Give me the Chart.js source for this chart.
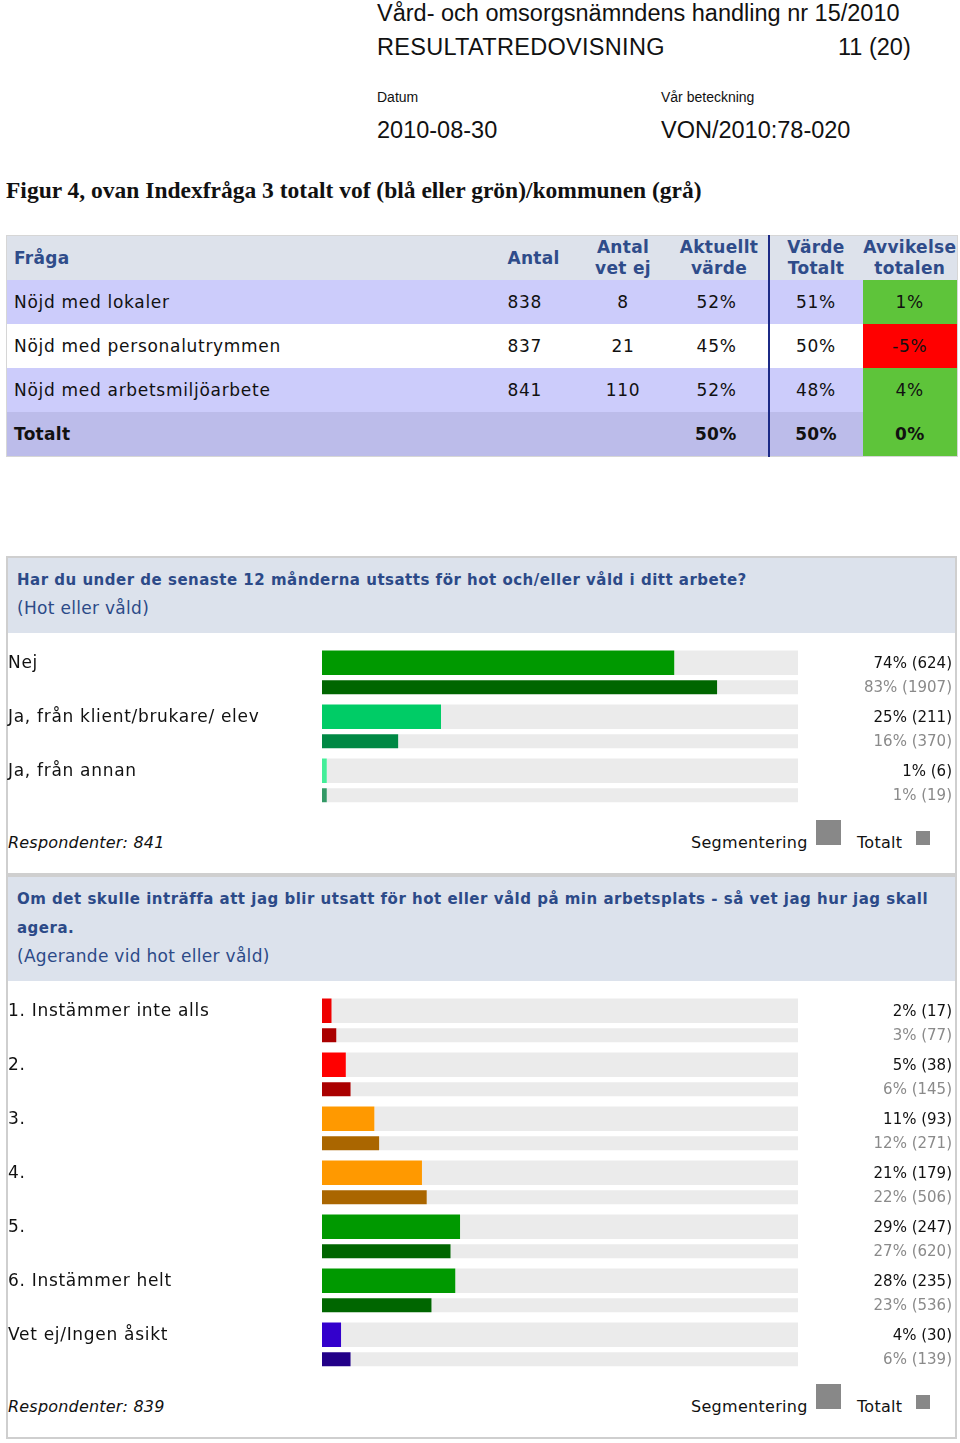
<!DOCTYPE html>
<html>
<head>
<meta charset="utf-8">
<script src="https://cdn.jsdelivr.net/npm/chart.js@4.4.1/dist/chart.umd.min.js"></script>
<style>
  body { margin: 0; background: #fff; width: 960px; height: 1443px; position: relative; overflow: hidden; font-family: "DejaVu Sans", sans-serif; color: #111; }
  .abs { position: absolute; white-space: nowrap; }
  .doc { font-family: "Liberation Sans", Arial, sans-serif; font-size: 23.5px; line-height: 28px; color: #111; }
  .small { font-family: "Liberation Sans", Arial, sans-serif; font-size: 14px; line-height: 18px; }
  .caption { font-family: "Liberation Serif", "Times New Roman", serif; font-weight: bold; font-size: 23.5px; line-height: 26px; }
  table.idx { position: absolute; left: 6px; top: 235px; width: 951px; border-collapse: collapse; table-layout: fixed; border: 1px solid #d6d6d6; font-size: 17px; letter-spacing: .7px; }
  table.idx td { padding: 0; height: 44px; vertical-align: middle; white-space: nowrap; }
  table.idx tr.head td { background: #dde2eb; color: #2f4c8a; font-weight: bold; line-height: 21px; text-align: center; letter-spacing: .3px; }
  table.idx tr.odd td { background: #ccccfb; }
  table.idx tr.even td { background: #fff; }
  table.idx tr.sum td { background: #bcbcea; font-weight: bold; letter-spacing: .3px; }
  table.idx tr td.q { text-align: left; padding-left: 7px; }
  table.idx tr td.n { text-align: left; padding-left: 27px; }
  table.idx tr td.c { text-align: center; }
  table.idx tr td.r { text-align: right; padding-right: 31px; }
  table.idx tr td.sep { border-left: 2px solid #1c2a86; }
  .panel { position: absolute; left: 6px; width: 951px; box-sizing: border-box; border: 2px solid #cfcfcf; background: #fff; }
  .phead { position: absolute; left: 0; right: 0; top: 0; background: #dce2ec; }
  .ptitle { font-weight: bold; font-size: 15px; line-height: 28px; color: #2c4a88; letter-spacing: .5px; }
  .psub { font-size: 17px; line-height: 28px; color: #2c4a88; letter-spacing: .3px; }
  .resp { font-style: italic; font-size: 16px; line-height: 20px; letter-spacing: .2px; }
  .leg { font-size: 16px; line-height: 20px; letter-spacing: .3px; }
  .sq { position: absolute; background: #888; }
  canvas { position: absolute; left: 7px; }
</style>
</head>
<body>

<div class="abs doc" style="left:377px;top:-1px">Vård- och omsorgsnämndens handling nr 15/2010</div>
<div class="abs doc" style="left:377px;top:33px;letter-spacing:.3px">RESULTATREDOVISNING</div>
<div class="abs doc" style="left:838px;top:33px">11 (20)</div>
<div class="abs small" style="left:377px;top:88px">Datum</div>
<div class="abs small" style="left:661px;top:88px">Vår beteckning</div>
<div class="abs doc" style="left:377px;top:116px">2010-08-30</div>
<div class="abs doc" style="left:661px;top:116px">VON/2010:78-020</div>
<div class="abs caption" style="left:6px;top:177px">Figur 4, ovan Indexfråga 3 totalt vof (blå eller grön)/kommunen (grå)</div>

<table class="idx" id="idx">
  <colgroup><col style="width:474px"><col style="width:95px"><col style="width:95px"><col style="width:98px"><col style="width:94px"><col style="width:95px"></colgroup>
  <tbody id="idxBody"></tbody>
</table>

<!-- panel 1 -->
<div class="panel" style="top:556px;height:319px"><div class="phead" style="height:75px"></div></div>
<div class="abs ptitle" style="left:17px;top:566px">Har du under de senaste 12 månderna utsatts för hot och/eller våld i ditt arbete?</div>
<div class="abs psub" style="left:17px;top:594px">(Hot eller våld)</div>
<canvas id="c1" width="949" height="162" style="top:648px"></canvas>
<div class="abs resp" style="left:8px;top:833px">Respondenter: 841</div>
<div class="abs leg" style="left:691px;top:833px">Segmentering</div>
<div class="sq" style="left:816px;top:820px;width:25px;height:25px"></div>
<div class="abs leg" style="left:857px;top:833px">Totalt</div>
<div class="sq" style="left:916px;top:831px;width:14px;height:14px"></div>

<!-- panel 2 -->
<div class="panel" style="top:875px;height:564px"><div class="phead" style="height:104px"></div></div>
<div class="abs ptitle" style="left:17px;top:885px">Om det skulle inträffa att jag blir utsatt för hot eller våld på min arbetsplats - så vet jag hur jag skall</div>
<div class="abs ptitle" style="left:17px;top:914px">agera.</div>
<div class="abs psub" style="left:17px;top:942px">(Agerande vid hot eller våld)</div>
<canvas id="c2" width="949" height="378" style="top:996px"></canvas>
<div class="abs resp" style="left:8px;top:1397px">Respondenter: 839</div>
<div class="abs leg" style="left:691px;top:1397px">Segmentering</div>
<div class="sq" style="left:816px;top:1384px;width:25px;height:25px"></div>
<div class="abs leg" style="left:857px;top:1397px">Totalt</div>
<div class="sq" style="left:916px;top:1395px;width:14px;height:14px"></div>

<script>
// index table
const tblQuestions = ["Nöjd med lokaler", "Nöjd med personalutrymmen", "Nöjd med arbetsmiljöarbete"];
const tblAntal = [838, 837, 841];
const tblVetEj = [8, 21, 110];
const tblAktuellt = [52, 45, 52];
const tblTotalt = [51, 50, 48];
const tblAvvikelse = [1, -5, 4];
const tblSum = { aktuellt: 50, totalt: 50, avvikelse: 0 };

// question 1: hot eller våld
const q1Labels = ["Nej", "Ja, från klient/brukare/ elev", "Ja, från annan"];
const q1Seg = [74, 25, 1];
const q1SegN = [624, 211, 6];
const q1Tot = [83, 16, 1];
const q1TotN = [1907, 370, 19];
const q1SegColors = ["#009900", "#00cc66", "#44ee99"];
const q1TotColors = ["#006600", "#008844", "#339966"];

// question 2: agerande vid hot eller våld
const q2Labels = ["1. Instämmer inte alls", "2.", "3.", "4.", "5.", "6. Instämmer helt", "Vet ej/Ingen åsikt"];
const q2Seg = [2, 5, 11, 21, 29, 28, 4];
const q2SegN = [17, 38, 93, 179, 247, 235, 30];
const q2Tot = [3, 6, 12, 22, 27, 23, 6];
const q2TotN = [77, 145, 271, 506, 620, 536, 139];
const q2SegColors = ["#ee0000", "#ff0000", "#ff9900", "#ff9900", "#009900", "#009900", "#3300cc"];
const q2TotColors = ["#aa0000", "#aa0000", "#aa6600", "#aa6600", "#006600", "#006600", "#220088"];

function devColor(v) { return v < 0 ? "#ff0000" : "#5ec43a"; }

document.getElementById("idxBody").innerHTML =
  `<tr class="head"><td class="q">Fråga</td><td class="n">Antal</td><td>Antal<br>vet ej</td><td>Aktuellt<br>värde</td><td class="sep">Värde<br>Totalt</td><td>Avvikelse<br>totalen</td></tr>` +
  tblQuestions.map((q, i) => `
    <tr class="${i % 2 ? "even" : "odd"}">
      <td class="q">${q}</td><td class="n">${tblAntal[i]}</td><td class="c">${tblVetEj[i]}</td>
      <td class="r">${tblAktuellt[i]}%</td><td class="c sep">${tblTotalt[i]}%</td>
      <td class="c" style="background:${devColor(tblAvvikelse[i])}">${tblAvvikelse[i]}%</td>
    </tr>`).join("") +
  `<tr class="sum"><td class="q">Totalt</td><td></td><td></td><td class="r">${tblSum.aktuellt}%</td>
    <td class="c sep">${tblSum.totalt}%</td><td class="c" style="background:${devColor(tblSum.avvikelse)}">${tblSum.avvikelse}%</td></tr>`;

// labels left, values right
const rowText = {
  id: "rowText",
  afterDatasetsDraw(chart, args, opts) {
    const ctx = chart.ctx;
    const segMeta = chart.getDatasetMeta(0), totMeta = chart.getDatasetMeta(1);
    ctx.save();
    ctx.textBaseline = "middle";
    opts.labels.forEach((lab, i) => {
      const y1 = segMeta.data[i].y, y2 = totMeta.data[i].y;
      ctx.letterSpacing = "0.7px";
      ctx.font = '17px "DejaVu Sans"';
      ctx.fillStyle = "#111";
      ctx.textAlign = "left";
      ctx.fillText(lab, 1, y1 + 1);
      ctx.letterSpacing = "0px";
      ctx.font = '15px "DejaVu Sans"';
      ctx.textAlign = "right";
      ctx.fillText(`${opts.seg[i]}% (${opts.segN[i]})`, 945, y1 + 1);
      ctx.fillStyle = "#8a8a8a";
      ctx.fillText(`${opts.tot[i]}% (${opts.totN[i]})`, 945, y2 + 1);
    });
    ctx.restore();
  }
};

function makeChart(id, labels, seg, segN, tot, totN, segColors, totColors) {
  return new Chart(document.getElementById(id), {
    type: "bar",
    data: {
      labels,
      datasets: [
        { label: "Segmentering", data: seg, backgroundColor: segColors, stack: "seg", maxBarThickness: 25 },
        { label: "Totalt", data: tot, backgroundColor: totColors, stack: "tot", maxBarThickness: 14 },
        { label: "", data: seg.map(v => 100 - v), backgroundColor: "#ebebeb", stack: "seg", maxBarThickness: 25 },
        { label: "", data: tot.map(v => 100 - v), backgroundColor: "#ebebeb", stack: "tot", maxBarThickness: 14 }
      ]
    },
    options: {
      indexAxis: "y",
      responsive: false,
      animation: false,
      categoryPercentage: 0.9074,
      barPercentage: 1,
      layout: { padding: { left: 315, right: 158, top: 0, bottom: 0 } },
      scales: {
        x: { min: 0, max: 100, stacked: true, display: false },
        y: { display: false }
      },
      plugins: {
        legend: { display: false },
        tooltip: { enabled: false },
        rowText: { labels, seg, segN, tot, totN }
      }
    },
    plugins: [rowText]
  });
}

makeChart("c1", q1Labels, q1Seg, q1SegN, q1Tot, q1TotN, q1SegColors, q1TotColors);
makeChart("c2", q2Labels, q2Seg, q2SegN, q2Tot, q2TotN, q2SegColors, q2TotColors);
</script>
</body>
</html>
